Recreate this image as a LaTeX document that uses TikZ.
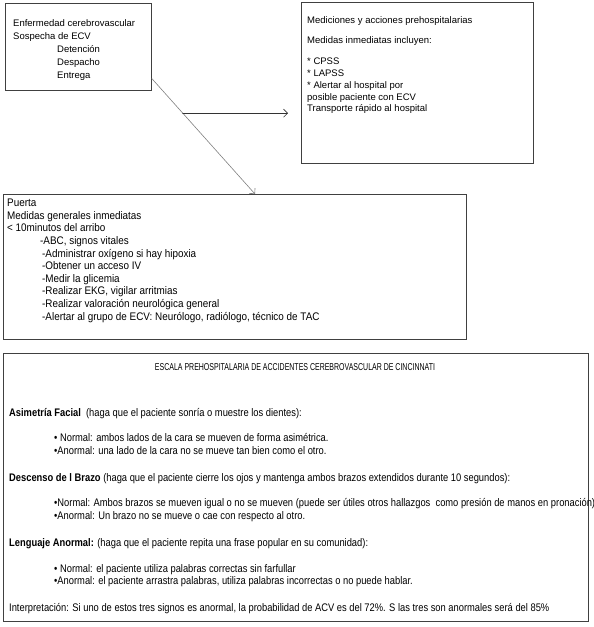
\documentclass[tikz,border=0pt]{standalone}
\usepackage{fontspec}
\setmainfont{Liberation Sans}
\newfontfamily\narrowsans[FakeStretch = 0.85]{Liberation Sans}
\newfontfamily\doorsans[FakeStretch = 0.9]{Liberation Sans}
\newfontfamily\titlesans[FakeStretch = 0.7]{Liberation Sans}
\usepackage{tikz}
\usetikzlibrary{arrows.meta, calc}
\definecolor{boxGray}{gray}{0.25}
\definecolor{lineGray}{gray}{0.5}

\begin{document}
\begin{tikzpicture}[x = 1pt, y = -1pt, style={line cap = round},
    box/.style = {draw = boxGray, line width = 0.8pt, inner sep = 0pt, anchor = north west},
    txt/.style = {inner sep = 0pt, anchor = north west, align = left},
    wide/.style = {txt, font = \fontsize{9.5}{13}\selectfont},
    narrow/.style = {txt, font = \narrowsans\fontsize{11}{12.4}\selectfont}]
  \useasboundingbox (0, 0) rectangle (594, 627);
  % the four boxes
  \node[box, minimum width = 146, minimum height = 87] (onset) at (5, 3) {};
  \node[box, minimum width = 232, minimum height = 161] (prehosp) at (301, 2) {};
  \node[box, minimum width = 463, minimum height = 145] (door) at (3, 194) {};
  \node[box, minimum width = 585, minimum height = 268] (cpss) at (3, 353) {};
  % texts
  \node[wide] (onsetText) at (13, 19) {Enfermedad cerebrovascular\\Sospecha de ECV\\
    \hspace*{44pt}Detención\\\hspace*{44pt}Despacho\\\hspace*{44pt}Entrega};
  \node[wide, font = \fontsize{9.5}{11.8}\selectfont] (prehospText) at (307, 16)
    {Mediciones y acciones prehospitalarias\\[9pt]Medidas inmediatas incluyen:\\[9pt]
    * CPSS\\* LAPSS\\* Alertar al hospital por\\posible paciente con ECV\\Transporte rápido al hospital};
  \node[narrow, font = \doorsans\fontsize{11}{12.6}\selectfont] (doorText) at (7, 199)
    {Puerta\\Medidas generales inmediatas\\< 10minutos del arribo\\
    \hspace*{33pt}-ABC, signos vitales\\
    \hspace*{35pt}-Administrar oxígeno si hay hipoxia\\
    \hspace*{35pt}-Obtener un acceso IV\\
    \hspace*{35pt}-Medir la glicemia\\
    \hspace*{35pt}-Realizar EKG, vigilar arritmias\\
    \hspace*{35pt}-Realizar valoración neurológica general\\
    \hspace*{35pt}-Alertar al grupo de ECV: Neurólogo, radiólogo, técnico de TAC};
  \node[narrow, anchor = center, font = \titlesans\fontsize{10}{12}\selectfont] (cpssTitle) at (295, 367)
    {ESCALA PREHOSPITALARIA DE ACCIDENTES CEREBROVASCULAR DE CINCINNATI};
  \node[narrow] (cpssText) at (9, 408)
    {\textbf{Asimetría Facial}\ \ (haga que el paciente sonría o muestre los dientes):\\[13pt]
    \hspace*{45pt}• Normal: ambos lados de la cara se mueven de forma asimétrica.\\
    \hspace*{45pt}•Anormal: una lado de la cara no se mueve tan bien como el otro.\\[15pt]
    \textbf{Descenso de l Brazo} (haga que el paciente cierre los ojos y mantenga ambos brazos extendidos durante 10 segundos):\\[13pt]
    \hspace*{45pt}•Normal: Ambos brazos se mueven igual o no se mueven (puede ser útiles otros hallazgos\ \ como presión de manos en pronación)\\
    \hspace*{45pt}•Anormal: Un brazo no se mueve o cae con respecto al otro.\\[15pt]
    \textbf{Lenguaje Anormal:} (haga que el paciente repita una frase popular en su comunidad):\\[13pt]
    \hspace*{45pt}• Normal: el paciente utiliza palabras correctas sin farfullar\\
    \hspace*{45pt}•Anormal: el paciente arrastra palabras, utiliza palabras incorrectas o no puede hablar.\\[15pt]
    Interpretación: Si uno de estos tres signos es anormal, la probabilidad de ACV es del 72\%. S las tres son anormales será del 85\%};
  % connectors
  \coordinate (fromOnset) at ($(onset.north east)!0.86!(onset.south east)$);
  \coordinate (toDoor) at ($(door.north west) + (252, 0)$);
  \coordinate (branch) at ($(fromOnset)!0.3!(toDoor)$);
  \coordinate (toPrehosp) at (288, 113);
  \draw[lineGray, line width = 0.6pt, -{Straight Barb[length = 4pt]}] (fromOnset) -- (toDoor);
  \draw[black!80, line width = 0.6pt, -{Straight Barb[length = 4pt]}] (branch) -- (branch -| toPrehosp);
\end{tikzpicture}
\end{document}
